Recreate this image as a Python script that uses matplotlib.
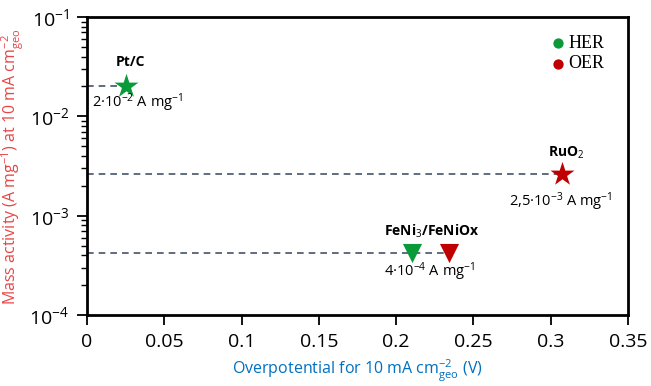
import matplotlib.pyplot as plt
from matplotlib.ticker import LogLocator, NullFormatter, FixedLocator

# data
names = ['Pt/C', 'RuO$_2$', 'FeNi$_3$/FeNiOx']
her_x = [0.025, 0.21]
her_y = [2e-2, 4.2e-4]
her_mk = ['*', 'v']
oer_x = [0.307, 0.234]
oer_y = [2.6e-3, 4.2e-4]
oer_mk = ['*', 'v']
dash_x = [0.025, 0.307, 0.234]
dash_y = [2e-2, 2.6e-3, 4.2e-4]
val_labels = ['2·10$^{-2}$ A mg$^{-1}$', '2,5·10$^{-3}$ A mg$^{-1}$', '4·10$^{-4}$ A mg$^{-1}$']

green = '#0A9A3A'
red = '#C00000'
dash_col = '#44546A'

plt.rcParams['font.family'] = ['Open Sans', 'DejaVu Sans']
plt.rcParams['mathtext.fontset'] = 'custom'
plt.rcParams['mathtext.rm'] = 'Open Sans'
plt.rcParams['mathtext.it'] = 'Open Sans'
plt.rcParams['mathtext.bf'] = 'Open Sans:bold'

fig = plt.figure(figsize=(6.51, 3.86), dpi=100)
ax = fig.add_axes([87/651, 1-315/386, 541/651, 298/386])

for x, y in zip(dash_x, dash_y):
    ax.plot([0, x], [y, y], ls=(0, (4, 3)), color=dash_col, lw=1.2, zorder=1)

for x, y, m in zip(her_x, her_y, her_mk):
    ax.scatter(x, y, marker=m, s=330 if m == '*' else 190, color=green, zorder=3, linewidths=0)
for x, y, m in zip(oer_x, oer_y, oer_mk):
    ax.scatter(x, y, marker=m, s=330 if m == '*' else 190, color=red, zorder=3, linewidths=0)

# names above, values below
ax.text(0.028, 3.5e-2, names[0], ha='center', va='center', fontsize=10, fontweight='bold')
ax.text(0.0035, 1.36e-2, val_labels[0], ha='left', va='center', fontsize=10.5)
ax.text(0.310, 4.3e-3, names[1], ha='center', va='center', fontsize=10, fontweight='bold')
ax.text(0.3066, 1.37e-3, val_labels[1], ha='center', va='center', fontsize=10.5)
ax.text(0.223, 6.9e-4, names[2], ha='center', va='center', fontsize=10, fontweight='bold')
ax.text(0.2217, 2.7e-4, val_labels[2], ha='center', va='center', fontsize=10.5)

# legend
ax.scatter(0.3046, 5.45e-2, s=55, color=green, linewidths=0)
ax.text(0.3115, 5.45e-2, 'HER', va='center', fontsize=13, family='Liberation Serif')
ax.scatter(0.3046, 3.37e-2, s=55, color=red, linewidths=0)
ax.text(0.3115, 3.37e-2, 'OER', va='center', fontsize=13, family='Liberation Serif')

ax.set_yscale('log')
ax.set_xlim(0, 0.35)
ax.set_ylim(1e-4, 1e-1)
ax.xaxis.set_major_locator(FixedLocator([0, 0.05, 0.1, 0.15, 0.2, 0.25, 0.3, 0.35]))
ax.set_xticklabels(['0', '0.05', '0.1', '0.15', '0.2', '0.25', '0.3', '0.35'])
ax.yaxis.set_major_locator(LogLocator(base=10, numticks=10))
ax.yaxis.set_minor_locator(LogLocator(base=10, subs=range(2, 10), numticks=10))
ax.yaxis.set_minor_formatter(NullFormatter())
ax.tick_params(axis='both', labelsize=14, direction='out', length=7, width=1.3, pad=6)
ax.tick_params(axis='y', which='minor', length=4, width=1)
for s in ax.spines.values():
    s.set_linewidth(2)

ax.set_xlabel('Overpotential for 10 mA cm$^{-2}_{geo}$ (V)', color='#0070C0', fontsize=11.5, labelpad=5)
ax.set_ylabel('Mass activity (A mg$^{-1}$) at 10 mA cm$^{-2}_{geo}$', color='#E84545', fontsize=11.5, labelpad=2)

fig.savefig('out.png', dpi=100)
